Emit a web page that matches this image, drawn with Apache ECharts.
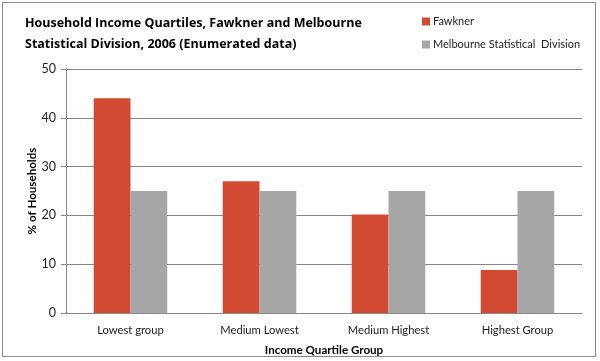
<!DOCTYPE html>
<html><head><meta charset="utf-8">
<script src="https://cdn.jsdelivr.net/npm/echarts@6/dist/echarts.min.js"></script>
<style>html,body{margin:0;padding:0;background:#fff}#c{width:600px;height:361px}</style>
</head><body><div id="c"></div>
<script>
const categories = ["Lowest group", "Medium Lowest", "Medium Highest", "Highest Group"];
const fawkner = [44, 27, 20.2, 8.8];
const melbourne = [25, 25, 25, 25];
const yTicks = [0, 10, 20, 30, 40, 50];

const chart = echarts.init(document.getElementById('c'), null, {renderer: 'canvas'});
const F = 'Lato, "Open Sans", sans-serif';
const FT = '"Open Sans", Lato, sans-serif';
chart.setOption({
  animation: false,
  backgroundColor: '#fff',
  graphic: [{type: 'rect', shape: {x: 2.5, y: 2.5, width: 593, height: 354}, style: {fill: 'none', stroke: '#8c8c8c', lineWidth: 1}, silent: true}],
  title: {
    text: 'Household Income Quartiles, Fawkner and Melbourne\nStatistical Division, 2006 (Enumerated data)',
    left: 20, top: 8,
    textStyle: {fontFamily: FT, fontSize: 12.5, fontWeight: 'bold', color: '#000', lineHeight: 21}
  },
  legend: {
    orient: 'vertical', left: 417, top: 9, itemGap: 8,
    itemWidth: 8, itemHeight: 8, icon: 'rect',
    textStyle: {fontFamily: F, fontSize: 11, color: '#222', padding: [0, 0, 0, -2], lineHeight: 15},
    data: ['Fawkner', 'Melbourne Statistical  Division']
  },
  grid: {left: 66, right: 18, top: 69, bottom: 48, containLabel: false},
  xAxis: {
    type: 'category', data: categories,
    name: 'Income Quartile Group', nameLocation: 'middle', nameGap: 31, nameMoveOverlap: false,
    nameTextStyle: {fontFamily: F, fontSize: 11.6, fontWeight: 'bold', color: '#000'},
    axisLine: {lineStyle: {color: '#888'}},
    axisTick: {show: false},
    axisLabel: {fontFamily: F, fontSize: 11.2, color: '#222', margin: 12}
  },
  yAxis: {
    type: 'value', min: 0, max: 50, interval: 10,
    name: '% of Households', nameLocation: 'middle', nameGap: 28, nameMoveOverlap: false,
    nameTextStyle: {fontFamily: F, fontSize: 11.6, fontWeight: 'bold', color: '#000'},
    axisLine: {show: true, lineStyle: {color: '#888'}},
    axisTick: {show: true, length: 5, inside: false, lineStyle: {color: '#888'}},
    splitLine: {lineStyle: {color: '#888'}},
    axisLabel: {fontFamily: F, fontSize: 12.5, color: '#222', margin: 10,
      formatter: v => yTicks.includes(v) ? String(v) : ''}
  },
  series: [
    {name: 'Fawkner', type: 'bar', data: fawkner, barGap: '0%', barCategoryGap: '43%',
     itemStyle: {color: '#D24A32'}},
    {name: 'Melbourne Statistical  Division', type: 'bar', data: melbourne, barGap: '0%', barCategoryGap: '43%',
     itemStyle: {color: '#A6A6A6'}}
  ]
});
</script></body></html>
